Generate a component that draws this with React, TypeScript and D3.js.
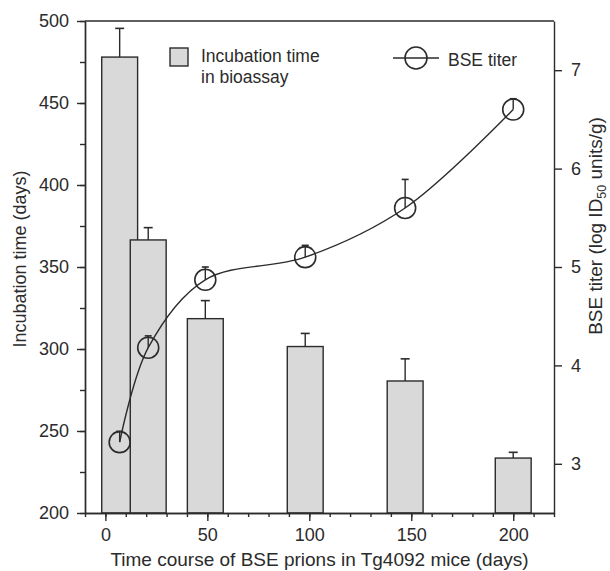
import { useEffect, useRef } from "react";
import * as d3 from "d3";

const days = [7, 21, 49, 98, 147, 200];
const incubation = [478, 366.5, 318.5, 301.5, 280.5, 233.5];
const incubationErr = [17.5, 7.5, 11, 8, 13.5, 3.5];
const titer = [3.22, 4.18, 4.87, 5.1, 5.6, 6.6];
const titerErr = [0.11, 0.12, 0.13, 0.12, 0.29, 0.11];

const xTicks = [0, 50, 100, 150, 200];
const leftTicks = [200, 250, 300, 350, 400, 450, 500];
const rightTicks = [3, 4, 5, 6, 7];

const W = 610;
const H = 571;
const margin = { top: 21, right: 56, bottom: 58, left: 85 };
const ink = "#2b2b2b";
const font = "'Liberation Sans', Arial, sans-serif";

export default function App() {
  const ref = useRef<SVGSVGElement>(null);

  useEffect(() => {
    const svg = d3.select(ref.current);
    svg.selectAll("*").remove();

    const width = W - margin.left - margin.right;
    const height = H - margin.top - margin.bottom;

    const x = d3.scaleLinear().domain([-10, 220]).range([0, width]);
    const yL = d3.scaleLinear().domain([200, 500]).range([height, 0]);
    const yR = d3.scaleLinear().domain([2.5, 7.5]).range([height, 0]);

    const g = svg.append("g").attr("transform", `translate(${margin.left},${margin.top})`);

    const barW = x(17.6) - x(0);
    const data = days.map((d, i) => ({
      day: d,
      inc: incubation[i],
      incErr: incubationErr[i],
      tit: titer[i],
      titErr: titerErr[i],
    }));

    // bars
    g.selectAll(".bar")
      .data(data)
      .enter()
      .append("rect")
      .attr("x", (d) => x(d.day) - barW / 2)
      .attr("y", (d) => yL(d.inc))
      .attr("width", barW)
      .attr("height", (d) => height - yL(d.inc))
      .attr("fill", "#d9d9d9")
      .attr("stroke", ink)
      .attr("stroke-width", 1.4);

    // bar error bars
    data.forEach((d) => {
      const cx = x(d.day);
      g.append("line").attr("x1", cx).attr("x2", cx)
        .attr("y1", yL(d.inc)).attr("y2", yL(d.inc + d.incErr))
        .attr("stroke", ink).attr("stroke-width", 1.4);
      g.append("line").attr("x1", cx - 4.5).attr("x2", cx + 4.5)
        .attr("y1", yL(d.inc + d.incErr)).attr("y2", yL(d.inc + d.incErr))
        .attr("stroke", ink).attr("stroke-width", 1.6);
    });

    // titer curve
    const line = d3.line<(typeof data)[0]>()
      .curve(d3.curveCatmullRom.alpha(0.5))
      .x((d) => x(d.day))
      .y((d) => yR(d.tit));
    g.append("path")
      .datum(data)
      .attr("d", line)
      .attr("fill", "none")
      .attr("stroke", ink)
      .attr("stroke-width", 1.4);

    data.forEach((d) => {
      const cx = x(d.day);
      g.append("line").attr("x1", cx).attr("x2", cx)
        .attr("y1", yR(d.tit)).attr("y2", yR(d.tit + d.titErr))
        .attr("stroke", ink).attr("stroke-width", 1.4);
      g.append("line").attr("x1", cx - 3.5).attr("x2", cx + 3.5)
        .attr("y1", yR(d.tit + d.titErr)).attr("y2", yR(d.tit + d.titErr))
        .attr("stroke", ink).attr("stroke-width", 1.6);
    });

    g.selectAll(".pt")
      .data(data)
      .enter()
      .append("circle")
      .attr("cx", (d) => x(d.day))
      .attr("cy", (d) => yR(d.tit))
      .attr("r", 10.5)
      .attr("fill", "none")
      .attr("stroke", ink)
      .attr("stroke-width", 1.6);

    // frame
    g.append("line").attr("x1", 0).attr("x2", width).attr("y1", 0).attr("y2", 0)
      .attr("stroke", ink).attr("stroke-width", 1.4);

    const styleAxis = (sel: any) => {
      sel.selectAll(".domain").attr("stroke", ink).attr("stroke-width", 1.4);
      sel.selectAll(".tick line").attr("stroke", ink).attr("stroke-width", 1.4);
      sel.selectAll("text").attr("fill", ink).attr("font-family", font).attr("font-size", 18);
    };

    // bottom axis: minor then major
    g.append("g")
      .attr("transform", `translate(0,${height})`)
      .call(d3.axisBottom(x).tickValues(d3.range(-10, 221, 10)).tickSize(4).tickSizeOuter(0).tickFormat(() => ""))
      .call(styleAxis);
    g.append("g")
      .attr("transform", `translate(0,${height})`)
      .call(d3.axisBottom(x).tickValues(xTicks).tickSize(8).tickSizeOuter(0).tickPadding(7).tickFormat(d3.format("d")))
      .call(styleAxis);

    // left axis
    g.append("g")
      .call(d3.axisLeft(yL).tickValues(d3.range(200, 501, 25)).tickSize(5).tickSizeOuter(0).tickFormat(() => ""))
      .call(styleAxis);
    g.append("g")
      .call(d3.axisLeft(yL).tickValues(leftTicks).tickSize(8).tickSizeOuter(0).tickPadding(8).tickFormat(d3.format("d")))
      .call(styleAxis);

    // right axis
    g.append("g")
      .attr("transform", `translate(${width},0)`)
      .call(d3.axisRight(yR).tickValues(rightTicks).tickSize(8).tickSizeOuter(0).tickPadding(9).tickFormat(d3.format("d")))
      .call(styleAxis);

    // axis titles
    svg.append("text")
      .attr("x", margin.left + width / 2)
      .attr("y", H - 5)
      .attr("text-anchor", "middle")
      .attr("font-family", font).attr("font-size", 19).attr("fill", ink)
      .text("Time course of BSE prions in Tg4092 mice (days)");

    svg.append("text")
      .attr("transform", `translate(26,${margin.top + height / 2 - 8}) rotate(-90)`)
      .attr("text-anchor", "middle")
      .attr("font-family", font).attr("font-size", 18).attr("fill", ink)
      .text("Incubation time (days)");

    const rt = svg.append("text")
      .attr("transform", `translate(602,226) rotate(-90)`)
      .attr("text-anchor", "middle")
      .attr("font-family", font).attr("font-size", 19).attr("fill", ink);
    rt.append("tspan").text("BSE titer (log ID");
    rt.append("tspan").attr("font-size", 12.5).attr("dy", 4).text("50");
    rt.append("tspan").attr("dy", -4).text(" units/g)");

    // legend
    svg.append("rect").attr("x", 170).attr("y", 48).attr("width", 18).attr("height", 18)
      .attr("fill", "#d9d9d9").attr("stroke", ink).attr("stroke-width", 1.4);
    svg.append("text").attr("x", 201).attr("y", 62)
      .attr("font-family", font).attr("font-size", 17.5).attr("fill", ink)
      .text("Incubation time");
    svg.append("text").attr("x", 201).attr("y", 83)
      .attr("font-family", font).attr("font-size", 17.5).attr("fill", ink)
      .text("in bioassay");

    svg.append("line").attr("x1", 393).attr("x2", 439).attr("y1", 58).attr("y2", 58)
      .attr("stroke", ink).attr("stroke-width", 1.4);
    svg.append("circle").attr("cx", 416).attr("cy", 58).attr("r", 11)
      .attr("fill", "none").attr("stroke", ink).attr("stroke-width", 1.6);
    svg.append("text").attr("x", 448).attr("y", 66)
      .attr("font-family", font).attr("font-size", 17.5).attr("fill", ink)
      .text("BSE titer");
  }, []);

  return (
    <svg
      ref={ref}
      width={W}
      height={H}
      style={{ position: "absolute", left: 0, top: 0, background: "#fff" }}
    />
  );
}
